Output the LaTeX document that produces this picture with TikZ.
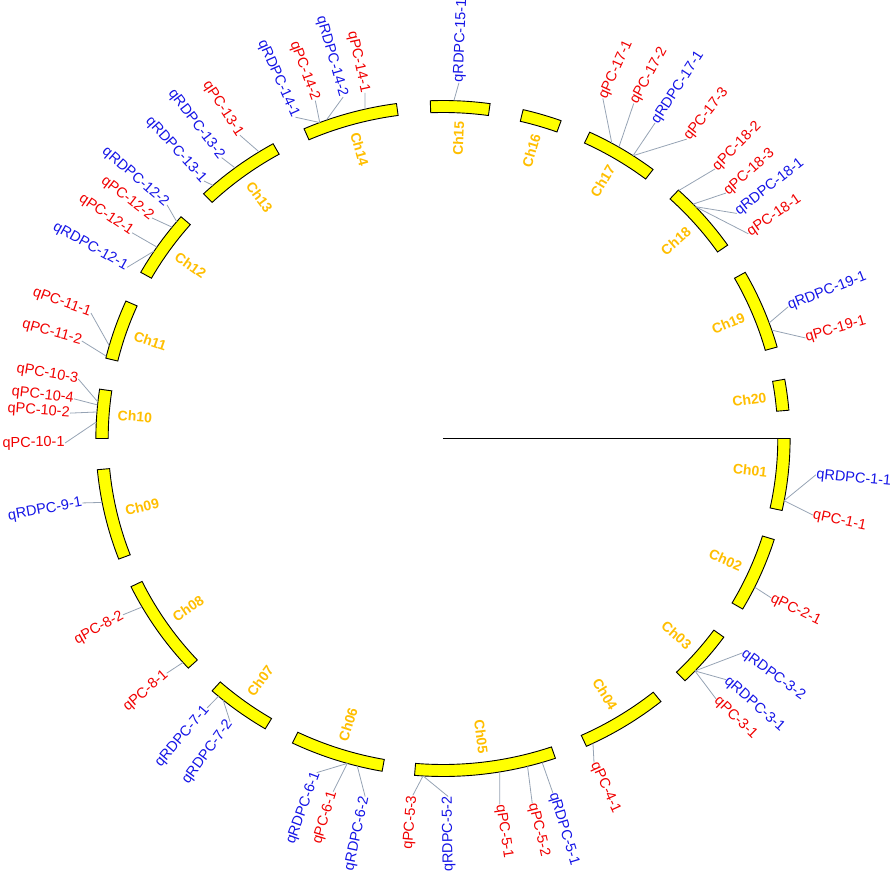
\documentclass[tikz,border=0pt]{standalone}
\usepackage{fontspec}
\setmainfont{Liberation Sans}
\definecolor{qred}{RGB}{240,0,0}
\definecolor{qblue}{RGB}{20,20,230}
\definecolor{chgold}{RGB}{255,190,0}
\definecolor{linkgray}{RGB}{150,163,180}
\definecolor{chyellow}{RGB}{255,255,0}
\tikzset{
  chrbar/.style={draw=black,line width=0.9pt,fill=chyellow,line join=miter},
  chlab/.style={text=chgold,font=\fontsize{14}{17}\selectfont\bfseries,inner sep=0.5pt,outer sep=0pt},
  qlab/.style={font=\fontsize{14.5}{17}\selectfont,inner sep=0.5pt,outer sep=0pt},
  link/.style={draw=linkgray,line width=0.8pt},
  axisline/.style={draw=black,line width=1.2pt}
}
\newcommand{\chrbar}[4]{%
  \draw[chrbar] plot[domain=#2:#3,samples=30] (\x:338) -- plot[domain=#3:#2,samples=30] (\x:326) -- cycle;
  \pgfmathsetmacro\midang{(#2+#3)/2}%
  \pgfmathsetmacro\cosv{cos(\midang)}%
  \ifdim\cosv pt>0pt
    \node[chlab,rotate=\midang,anchor=east] (#1) at (\midang:318) {#4};
  \else
    \node[chlab,rotate=\midang+180,anchor=west] (#1) at (\midang:318) {#4};
  \fi
}
\newcommand{\qtl}[6]{%
  \coordinate (#1a) at (#2:338);
  \pgfmathsetmacro\cosv{cos(#2)}%
  \ifdim\cosv pt>0pt
    \node[qlab,text=#5,rotate=#3,anchor=west] (#1) at (#3:#4) {#6};
    \draw[link] (#1a) -- (#1.west);
  \else
    \node[qlab,text=#5,rotate=#3+180,anchor=east] (#1) at (#3:#4) {#6};
    \draw[link] (#1a) -- (#1.east);
  \fi
}
\begin{document}
\begin{tikzpicture}[x=1.027pt,y=1pt]
\useasboundingbox (-431.35,-437.5) rectangle (441.1,438.5);
\coordinate (ctr) at (0,0);
\coordinate (axend) at (0:338);
\draw[axisline] (ctr) -- (axend);
% chromosomes
\chrbar{ch01}{0}{-12.3}{Ch01}
\chrbar{ch02}{-17.4}{-30.3}{Ch02}
\chrbar{ch03}{-36.0}{-45.8}{Ch03}
\chrbar{ch04}{-51.1}{-65.6}{Ch04}
\chrbar{ch05}{-71.1}{-94.7}{Ch05}
\chrbar{ch06}{-100.1}{-115.7}{Ch06}
\chrbar{ch07}{-120.8}{-131.7}{Ch07}
\chrbar{ch08}{-137.2}{-154.0}{Ch08}
\chrbar{ch09}{-159.1}{-174.7}{Ch09}
\chrbar{ch10}{-180}{-188.4}{Ch10}
\chrbar{ch11}{-193.75}{-204.0}{Ch11}
\chrbar{ch12}{-209.45}{-221.0}{Ch12}
\chrbar{ch13}{-226.4}{-240.7}{Ch13}
\chrbar{ch14}{-246.4}{-262.3}{Ch14}
\chrbar{ch15}{-267.9}{-277.8}{Ch15}
\chrbar{ch16}{-283.35}{-289.9}{Ch16}
\chrbar{ch17}{-295.0}{-307.25}{Ch17}
\chrbar{ch18}{-312.7}{-325.1}{Ch18}
\chrbar{ch19}{-330.55}{-344.3}{Ch19}
\chrbar{ch20}{-349.9}{-355.2}{Ch20}
% QTLs
\qtl{rd1-1}{-10.6}{-5.7}{365}{qblue}{qRDPC-1-1}
\qtl{pc1-1}{-10.6}{-12.0}{368}{qred}{qPC-1-1}
\qtl{pc2-1}{-26.1}{-26.5}{357}{qred}{qPC-2-1}
\qtl{rd3-2}{-43.45}{-36.3}{362}{qblue}{qRDPC-3-2}
\qtl{rd3-1}{-43.45}{-41.2}{366}{qblue}{qRDPC-3-1}
\qtl{pc3-1}{-43.45}{-44.4}{372}{qred}{qPC-3-1}
\qtl{pc4-1}{-64.4}{-65.6}{356}{qred}{qPC-4-1}
\qtl{pc5-3}{-93.3}{-94.7}{358}{qred}{qPC-5-3}
\qtl{rd5-2}{-93.3}{-89.2}{358}{qblue}{qRDPC-5-2}
\qtl{pc5-1}{-80.6}{-81.4}{370}{qred}{qPC-5-1}
\qtl{pc5-2}{-75.9}{-76.6}{375}{qred}{qPC-5-2}
\qtl{rd5-1}{-73.4}{-73.2}{370}{qblue}{qRDPC-5-1}
\qtl{rd6-1}{-106}{-110.2}{356}{qblue}{qRDPC-6-1}
\qtl{pc6-1}{-106}{-106.85}{369}{qred}{qPC-6-1}
\qtl{rd6-2}{-104.3}{-101.95}{366}{qblue}{qRDPC-6-2}
\qtl{rd7-1}{-130.3}{-130.45}{354}{qblue}{qRDPC-7-1}
\qtl{rd7-2}{-129.3}{-126.2}{351}{qblue}{qRDPC-7-2}
\qtl{pc8-2}{-150.1}{-150.5}{358}{qred}{qPC-8-2}
\qtl{pc8-1}{-138.5}{-138.9}{357}{qred}{qPC-8-1}
\qtl{rd9-1}{-169.1}{-169.6}{357}{qblue}{qRDPC-9-1}
\qtl{pc10-3}{173.8}{170.5}{360}{qred}{qPC-10-3}
\qtl{pc10-4}{174.3}{173.7}{361.5}{qred}{qPC-10-4}
\qtl{pc10-2}{175.5}{176}{364}{qred}{qPC-10-2}
\qtl{pc10-1}{177.2}{180.7}{368}{qred}{qPC-10-1}
\qtl{pc11-1}{164.05}{159.9}{365}{qred}{qPC-11-1}
\qtl{pc11-2}{165.9}{164.5}{365}{qred}{qPC-11-2}
\qtl{rd12-2}{140.1}{139}{356}{qblue}{qRDPC-12-2}
\qtl{pc12-2}{141.3}{142.1}{359}{qred}{qPC-12-2}
\qtl{pc12-1}{145.5}{145.8}{366}{qred}{qPC-12-1}
\qtl{rd12-1}{146.3}{150.9}{352}{qblue}{qRDPC-12-1}
\qtl{pc13-1}{122}{123.1}{362}{qred}{qPC-13-1}
\qtl{rd13-2}{126.8}{127.5}{354}{qblue}{qRDPC-13-2}
\qtl{rd13-1}{131.5}{132.1}{347}{qblue}{qRDPC-13-1}
\qtl{rd14-1}{110.8}{114.1}{352}{qblue}{qRDPC-14-1}
\qtl{pc14-2}{110.8}{110.2}{360}{qred}{qPC-14-2}
\qtl{rd14-2}{109.65}{105.9}{355}{qblue}{qRDPC-14-2}
\qtl{pc14-1}{103}{102.4}{354}{qred}{qPC-14-1}
\qtl{rd15-1}{88.2}{87.5}{356}{qblue}{qRDPC-15-1}
\qtl{pc17-1}{60.9}{65.4}{374}{qred}{qPC-17-1}
\qtl{pc17-2}{59.55}{61}{383}{qred}{qPC-17-2}
\qtl{rd17-1}{56.8}{56.8}{377}{qblue}{qRDPC-17-1}
\qtl{pc17-3}{56.8}{51.6}{382}{qred}{qPC-17-3}
\qtl{pc18-2}{47.2}{45.5}{378}{qred}{qPC-18-2}
\qtl{pc18-3}{43.9}{41.7}{369}{qred}{qPC-18-3}
\qtl{rd18-1}{43.3}{38.2}{364}{qblue}{qRDPC-18-1}
\qtl{pc18-1}{43.3}{34.55}{361}{qred}{qPC-18-1}
\qtl{rd19-1}{20.0}{21.4}{361}{qblue}{qRDPC-19-1}
\qtl{pc19-1}{18.7}{15.9}{367}{qred}{qPC-19-1}
\end{tikzpicture}
\end{document}
